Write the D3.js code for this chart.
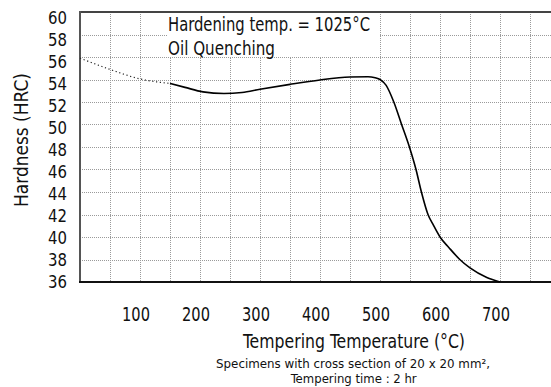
<!DOCTYPE html>
<html>
<head>
<meta charset="utf-8">
<script src="https://cdn.jsdelivr.net/npm/d3@7"></script>
<style>
  html, body { margin: 0; padding: 0; background: #fff; }
  svg { display: block; font-family: "DejaVu Sans Condensed", "DejaVu Sans", sans-serif; font-stretch: condensed; }
</style>
</head>
<body>
<svg id="chart" width="551" height="387"></svg>
<script>
// ---- data ----
const xTickValues = [100, 200, 300, 400, 500, 600, 700];
const yTickValues = [36, 38, 40, 42, 44, 46, 48, 50, 52, 54, 56, 58, 60];
const xGridValues = [50, 100, 150, 200, 250, 300, 350, 400, 450, 500, 550, 600, 650, 700, 750];
// extrapolated (dotted) part
const dottedTemp = [0, 50, 100, 150];
const dottedHRC  = [55.9, 54.9, 54.05, 53.65];
// measured (solid) part
const solidTemp = [150, 175, 205, 240, 270, 300, 350, 400, 450, 480, 492, 500, 510, 523, 536, 549, 560, 569, 580, 589, 600, 615, 633, 650, 678, 700];
const solidHRC  = [53.65, 53.3, 52.9, 52.75, 52.85, 53.13, 53.57, 53.96, 54.22, 54.25, 54.15, 54.0, 53.5, 52.0, 50.0, 48.0, 46.0, 44.0, 42.0, 41.05, 40.0, 39.05, 38.0, 37.25, 36.4, 36.0];
const noteLines = ["Hardening temp. = 1025\u00B0C", "Oil Quenching"];
const xTitle = "Tempering Temperature (\u00B0C)";
const yTitle = "Hardness (HRC)";
const captionLines = ["Specimens with cross section of 20 x 20 mm\u00B2,", "Tempering time : 2 hr"];

// ---- layout ----
const svg = d3.select("#chart");
const W = 551;
const x = d3.scaleLinear().domain([0, 800]).range([80, 560]);
const y = d3.scaleLinear().domain([36, 60]).range([282, 12]);
// tick labels in the original are spaced slightly tighter than the grid
const yLabel = d3.scaleLinear().domain([36, 60]).range([281.5, 17.5]);

// grid
const grid = svg.append("g").attr("stroke", "#9a9a9a").attr("stroke-width", 1).attr("stroke-dasharray", "1,1");
grid.selectAll("line.v").data(xGridValues).join("line")
  .attr("x1", d => Math.round(x(d)) + 0.5).attr("x2", d => Math.round(x(d)) + 0.5)
  .attr("y1", y(60)).attr("y2", y(36));
grid.selectAll("line.h").data(yTickValues.filter(v => v > 36 && v < 60)).join("line")
  .attr("x1", x(0)).attr("x2", W)
  .attr("y1", d => Math.round(y(d)) + 0.5).attr("y2", d => Math.round(y(d)) + 0.5);

// note box covering grid
svg.append("rect").attr("x", 167).attr("y", y(60)).attr("width", 213).attr("height", 45).attr("fill", "#fff");
svg.append("text").attr("x", 168).attr("y", 31).attr("font-size", 19).attr("fill", "#111")
  .attr("textLength", 202).attr("lengthAdjust", "spacingAndGlyphs").text(noteLines[0]);
svg.append("text").attr("x", 168).attr("y", 55).attr("font-size", 19).attr("fill", "#111")
  .attr("textLength", 107).attr("lengthAdjust", "spacingAndGlyphs").text(noteLines[1]);

// frame
svg.append("line").attr("x1", x(0)).attr("x2", W).attr("y1", y(60)).attr("y2", y(60))
  .attr("stroke", "#444").attr("stroke-width", 2);
svg.append("line").attr("x1", x(0)).attr("x2", x(0)).attr("y1", y(60) - 1).attr("y2", y(36))
  .attr("stroke", "#555").attr("stroke-width", 2);
svg.append("line").attr("x1", x(0) - 1).attr("x2", W).attr("y1", y(36)).attr("y2", y(36))
  .attr("stroke", "#111").attr("stroke-width", 2);

// curves
const line = d3.line().x(d => x(d[0])).y(d => y(d[1])).curve(d3.curveMonotoneX);
svg.append("path").attr("d", line(dottedTemp.map((t, i) => [t, dottedHRC[i]])))
  .attr("fill", "none").attr("stroke", "#222").attr("stroke-width", 1.2).attr("stroke-dasharray", "1.2,2.6");
svg.append("path").attr("d", line(solidTemp.map((t, i) => [t, solidHRC[i]])))
  .attr("fill", "none").attr("stroke", "#000").attr("stroke-width", 1.6);

// y tick labels
svg.append("g").selectAll("text").data(yTickValues).join("text")
  .attr("x", 67).attr("y", d => yLabel(d)).attr("dy", "0.36em")
  .attr("text-anchor", "end").attr("font-size", 17).attr("fill", "#111")
  .attr("textLength", d => String(d).length * 9.5).attr("lengthAdjust", "spacingAndGlyphs")
  .text(d => d);

// x tick labels
svg.append("g").selectAll("text").data(xTickValues).join("text")
  .attr("x", d => x(d) - 4).attr("y", 320.5)
  .attr("text-anchor", "middle").attr("font-size", 19).attr("fill", "#111")
  .attr("textLength", d => String(d).length * 9.3).attr("lengthAdjust", "spacingAndGlyphs")
  .text(d => d);

// axis titles
svg.append("text").attr("transform", "translate(27.5,140) rotate(-90)")
  .attr("text-anchor", "middle").attr("font-size", 19.5).attr("fill", "#111")
  .attr("textLength", 134).attr("lengthAdjust", "spacingAndGlyphs").text(yTitle);
svg.append("text").attr("x", 354).attr("y", 348)
  .attr("text-anchor", "middle").attr("font-size", 20).attr("fill", "#111")
  .attr("textLength", 222).attr("lengthAdjust", "spacingAndGlyphs").text(xTitle);
svg.append("text").attr("x", 353).attr("y", 368)
  .attr("text-anchor", "middle").attr("font-size", 12.5).attr("fill", "#111")
  .attr("textLength", 274).attr("lengthAdjust", "spacingAndGlyphs").text(captionLines[0]);
svg.append("text").attr("x", 353.7).attr("y", 383)
  .attr("text-anchor", "middle").attr("font-size", 12.5).attr("fill", "#111")
  .attr("textLength", 126).attr("lengthAdjust", "spacingAndGlyphs").text(captionLines[1]);
</script>
</body>
</html>
